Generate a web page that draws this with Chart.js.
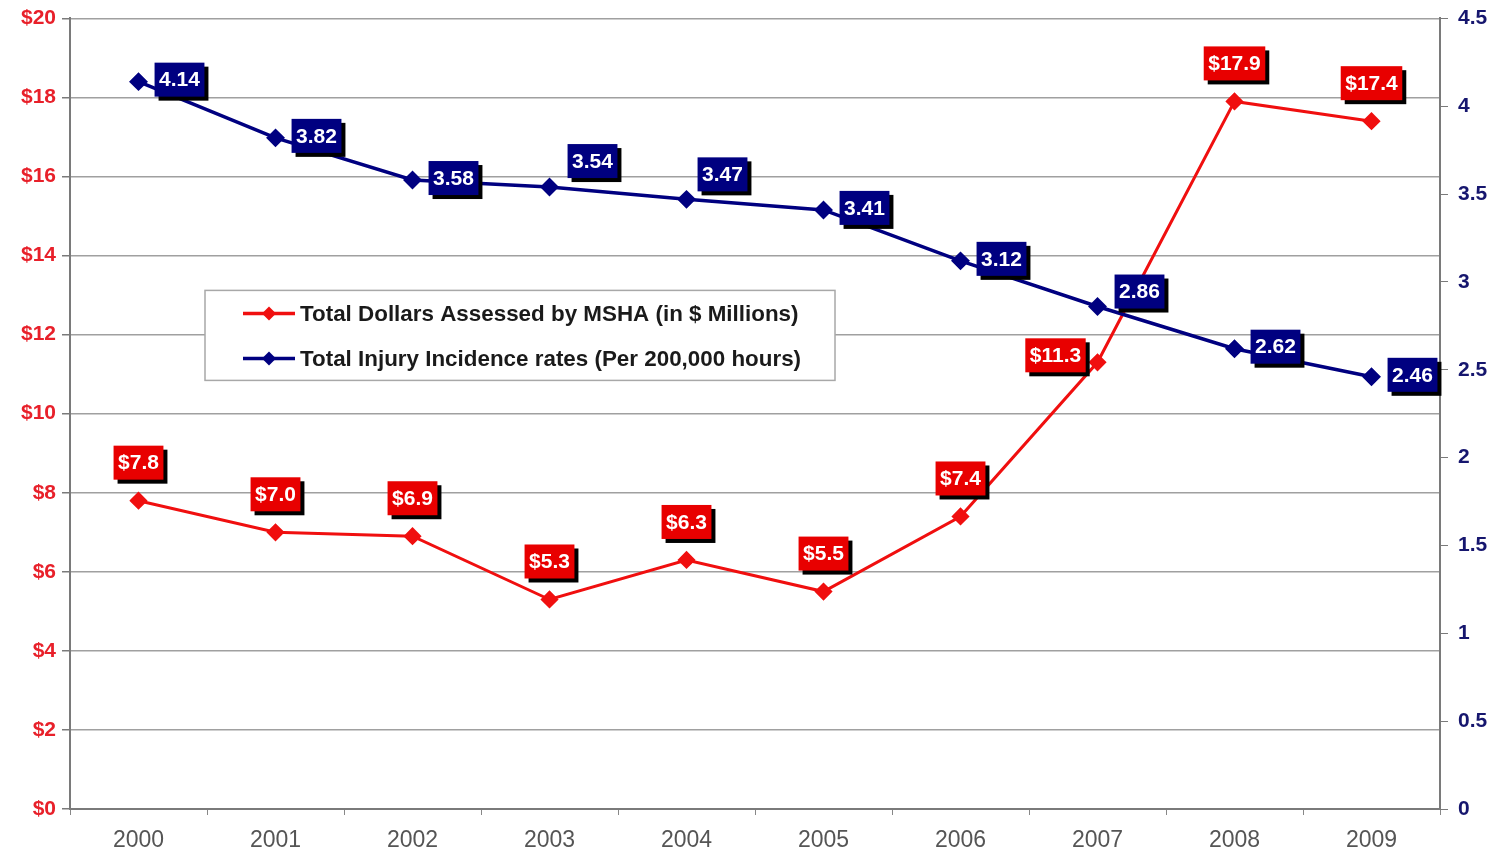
<!DOCTYPE html>
<html><head><meta charset="utf-8">
<script src="https://cdn.jsdelivr.net/npm/chart.js@4.4.1/dist/chart.umd.min.js"></script>
<style>html,body{margin:0;padding:0;background:#fff;}#wrap{width:1501px;height:856px;}</style>
</head><body><div id="wrap"><canvas id="c" width="1501" height="856"></canvas></div>
<script>
const years = ['2000','2001','2002','2003','2004','2005','2006','2007','2008','2009'];
const dollars = [7.8, 7.0, 6.9, 5.3, 6.3, 5.5, 7.4, 11.3, 17.9, 17.4];
const injuryRates = [4.14, 3.82, 3.58, 3.54, 3.47, 3.41, 3.12, 2.86, 2.62, 2.46];
const dollarTicks = [0, 2, 4, 6, 8, 10, 12, 14, 16, 18, 20];
const rateTicks = [0, 0.5, 1, 1.5, 2, 2.5, 3, 3.5, 4, 4.5];
const seriesNames = ['Total Dollars Assessed by MSHA (in $ Millions)', 'Total Injury Incidence rates (Per 200,000 hours)'];

const RED = '#f00f0f';
const NAVY = '#000080';
const FONT = '"Liberation Sans", Arial, sans-serif';

const boxLabels = {
  id: 'boxLabels',
  afterDatasetsDraw(chart, args, opts) {
    const ctx = chart.ctx;
    ctx.save();
    // legend
    const L = opts.legend;
    const ca = chart.chartArea;
    const lx = ca.left + L.x, ly = ca.top + L.y;
    ctx.fillStyle = '#fff';
    ctx.fillRect(lx, ly, L.w, L.h);
    ctx.strokeStyle = '#a8a8a8'; ctx.lineWidth = 1.5;
    ctx.strokeRect(lx, ly, L.w, L.h);
    ctx.font = 'bold 22.4px ' + FONT;
    ctx.textAlign = 'left'; ctx.textBaseline = 'middle';
    chart.data.datasets.forEach((ds, i) => {
      const y = ly + 23 + i * 45;
      ctx.strokeStyle = ds.borderColor; ctx.lineWidth = 3.5;
      ctx.beginPath(); ctx.moveTo(lx + 38, y); ctx.lineTo(lx + 90, y); ctx.stroke();
      ctx.fillStyle = ds.borderColor;
      ctx.beginPath(); ctx.moveTo(lx + 64, y - 7); ctx.lineTo(lx + 71, y); ctx.lineTo(lx + 64, y + 7); ctx.lineTo(lx + 57, y); ctx.closePath(); ctx.fill();
      ctx.fillStyle = '#1a1a1a';
      ctx.fillText(ds.label, lx + 95, y + 1);
    });
    // data labels
    ctx.font = 'bold 21px ' + FONT;
    ctx.textAlign = 'center'; ctx.textBaseline = 'middle';
    chart.data.datasets.forEach((ds, i) => {
      const meta = chart.getDatasetMeta(i);
      const cfg = opts.series[i];
      meta.data.forEach((pt, j) => {
        const txt = cfg.format(ds.data[j]);
        const off = cfg.offsets[j] || cfg.offset;
        const w = ctx.measureText(txt).width + 9, h = 34;
        const cx = pt.x + off[0], cy = pt.y + off[1];
        ctx.fillStyle = '#000';
        ctx.fillRect(cx - w / 2 + 4, cy - h / 2 + 4, w, h);
        ctx.fillStyle = cfg.bg;
        ctx.fillRect(cx - w / 2, cy - h / 2, w, h);
        ctx.fillStyle = '#fff';
        ctx.fillText(txt, cx, cy + 1);
      });
    });
    ctx.restore();
  }
};

new Chart(document.getElementById('c'), {
  type: 'line',
  data: {
    labels: years,
    datasets: [
      { label: seriesNames[0], data: dollars, yAxisID: 'y', borderColor: RED, backgroundColor: RED,
        borderWidth: 3, pointStyle: 'rectRot', pointRadius: 7, pointHoverRadius: 7, tension: 0, order: 1 },
      { label: seriesNames[1], data: injuryRates, yAxisID: 'y1', borderColor: NAVY, backgroundColor: NAVY,
        borderWidth: 3.5, pointStyle: 'rectRot', pointRadius: 7, pointHoverRadius: 7, tension: 0, order: 0 }
    ]
  },
  options: {
    responsive: false, animation: false, devicePixelRatio: 1,
    layout: { padding: { top: 18, left: 0, right: 0, bottom: 0 } },
    plugins: {
      legend: { display: false }, tooltip: { enabled: false },
      boxLabels: {
        legend: { x: 135, y: 272, w: 630, h: 90 },
        series: [
          { bg: '#e80000', format: v => '$' + v.toFixed(1), offset: [0, -38], offsets: { 7: [-42, -7] } },
          { bg: NAVY, format: v => v.toFixed(2), offset: [41, -2], offsets: { 3: [43, -26], 4: [36, -25], 7: [42, -15] } }
        ]
      }
    },
    scales: {
      x: {
        offset: true,
        afterFit(s) { s.height = 47; },
        grid: { drawOnChartArea: false, drawTicks: true, tickLength: 6, color: '#888', offset: true },
        border: { color: '#7a7a7a', width: 2 },
        ticks: { color: '#555', font: { family: FONT, size: 23 }, padding: 12 }
      },
      y: {
        position: 'left', min: 0, max: 20,
        afterFit(s) { s.width = 70; },
        afterBuildTicks(s) { s.ticks = dollarTicks.map(v => ({ value: v })); },
        grid: { color: '#a0a0a0', lineWidth: 1.5, tickLength: 8, tickColor: '#7a7a7a' },
        border: { color: '#7a7a7a', width: 2 },
        ticks: { color: '#e8202a', font: { family: FONT, size: 21, weight: 'bold', lineHeight: 0.8 }, padding: 6, callback: v => '$' + v }
      },
      y1: {
        position: 'right', min: 0, max: 4.5,
        afterFit(s) { s.width = 61; },
        afterBuildTicks(s) { s.ticks = rateTicks.map(v => ({ value: v })); },
        grid: { drawOnChartArea: false, tickLength: 8, color: '#7a7a7a' },
        border: { color: '#7a7a7a', width: 2 },
        ticks: { color: '#16166e', font: { family: FONT, size: 21, weight: 'bold', lineHeight: 0.8 }, padding: 10, callback: v => String(v) }
      }
    }
  },
  plugins: [boxLabels]
});
</script>
</body></html>
